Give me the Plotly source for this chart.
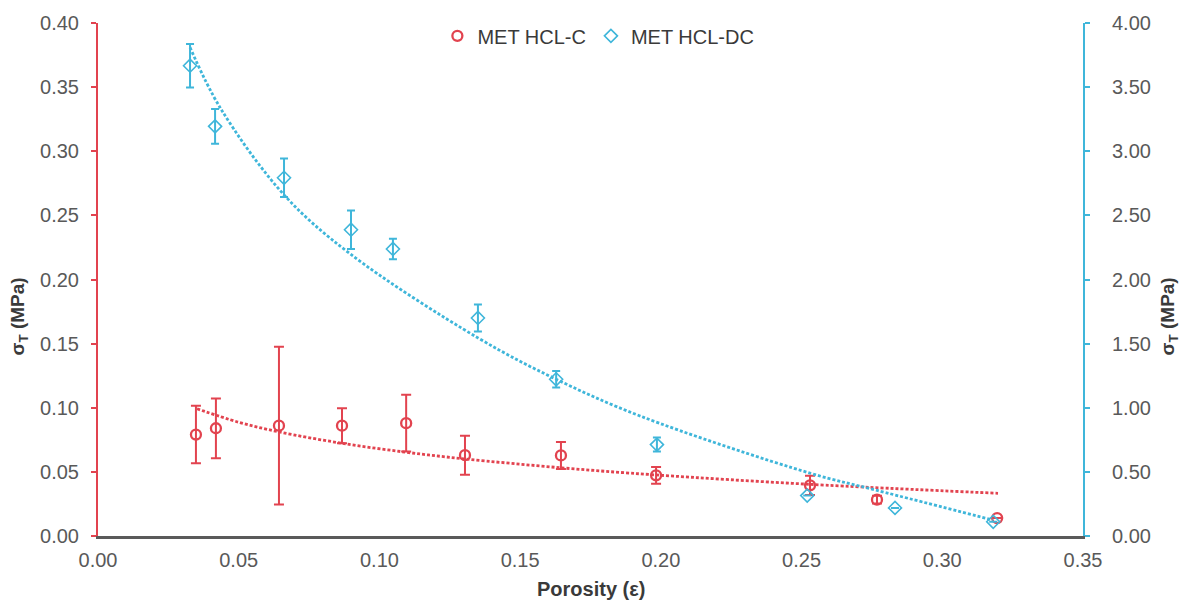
import plotly.graph_objects as go

# ---- data ----
c_x = [0.0348, 0.0419, 0.0643, 0.0867, 0.1095, 0.1304, 0.1645, 0.1983, 0.2530, 0.2768, 0.3195]
c_y = [0.0791, 0.0840, 0.0860, 0.0860, 0.0880, 0.0630, 0.0628, 0.0473, 0.0395, 0.0283, 0.0140]
c_err = [0.0224, 0.0233, 0.0615, 0.0136, 0.0222, 0.0152, 0.0105, 0.0065, 0.0075, 0.0030, 0.0]

dc_x = [0.0327, 0.0416, 0.0661, 0.0899, 0.1048, 0.1350, 0.1628, 0.1986, 0.2520, 0.2832, 0.3181]
dc_y = [3.667, 3.194, 2.793, 2.388, 2.238, 1.700, 1.222, 0.713, 0.315, 0.219, 0.111]
dc_err = [0.170, 0.135, 0.150, 0.150, 0.080, 0.105, 0.065, 0.055, 0.0, 0.0, 0.0]

# trend lines
c_trend_x = [0.0352, 0.050, 0.0643, 0.0867, 0.1095, 0.130, 0.165, 0.1983, 0.253, 0.3198]
c_trend_y = [0.0992, 0.0887, 0.0812, 0.0723, 0.0653, 0.0602, 0.0531, 0.0476, 0.0403, 0.0333]

dc_trend_x = [0.0327, 0.0434, 0.0661, 0.0896, 0.135, 0.163, 0.1926, 0.253, 0.2768, 0.318]
dc_trend_y = [3.81, 3.34, 2.66, 2.20, 1.545, 1.22, 0.936, 0.49, 0.356, 0.124]

x_ticks = [0.00, 0.05, 0.10, 0.15, 0.20, 0.25, 0.30, 0.35]

RED = "#e2434f"
CYAN = "#3fb6da"
TICK = "#595959"
TITLE = "#3a3a3a"
FONT = "Liberation Sans, Arial, sans-serif"

fig = go.Figure()

fig.add_trace(go.Scatter(
    x=c_trend_x, y=c_trend_y, mode="lines", line_shape="spline",
    line=dict(color=RED, width=2.8, dash="3px,2px"), showlegend=False, hoverinfo="skip"))
fig.add_trace(go.Scatter(
    x=dc_trend_x, y=dc_trend_y, mode="lines", line_shape="spline", yaxis="y2",
    line=dict(color=CYAN, width=2.8, dash="3px,2px"), showlegend=False, hoverinfo="skip"))

fig.add_trace(go.Scatter(
    x=c_x, y=c_y, mode="markers", name="MET HCL-C",
    marker=dict(symbol="circle-open", size=10, color=RED, line=dict(width=2.3, color=RED)),
    error_y=dict(type="data", array=c_err, visible=True, color=RED, thickness=2, width=5)))
fig.add_trace(go.Scatter(
    x=dc_x, y=dc_y, mode="markers", name="MET HCL-DC", yaxis="y2",
    marker=dict(symbol="diamond-open", size=10, color=CYAN, line=dict(width=1.6, color=CYAN)),
    error_y=dict(type="data", array=dc_err, visible=True, color=CYAN, thickness=2, width=4)))

fig.update_layout(
    width=1185, height=603,
    margin=dict(l=98, r=102, t=20, b=67),
    paper_bgcolor="white", plot_bgcolor="white",
    font=dict(family=FONT, size=20, color=TICK),
    xaxis=dict(range=[0, 0.35], tickvals=x_ticks, tickformat=".2f",
               showgrid=False, zeroline=False, showline=True, linecolor="#5a5a5a", linewidth=3,
               ticks="", ticklabelstandoff=4, tickfont=dict(size=20, color=TICK)),
    yaxis=dict(range=[0, 0.40], dtick=0.05, tickformat=".2f",
               showgrid=False, zeroline=False, showline=True, linecolor=RED, linewidth=2,
               ticks="outside", ticklen=5, tickcolor=RED, tickwidth=1.5, ticklabelstandoff=8,
               tickfont=dict(size=20, color=TICK)),
    yaxis2=dict(range=[0, 4.0], dtick=0.5, tickformat=".2f", overlaying="y", side="right",
                showgrid=False, zeroline=False, showline=True, linecolor=CYAN, linewidth=2,
                ticks="outside", ticklen=5, tickcolor=CYAN, tickwidth=1.5, ticklabelstandoff=18,
                tickfont=dict(size=20, color=TICK)),
    legend=dict(orientation="h", x=0.508, xanchor="center", y=0.975, yanchor="middle",
                font=dict(size=20, color=TITLE), bgcolor="rgba(0,0,0,0)", itemwidth=30),
    annotations=[
        dict(text="<b>σ<sub>T</sub> (MPa)</b>", xref="paper", yref="paper",
             x=-0.0802, y=0.428, xanchor="center", yanchor="middle", textangle=-90, showarrow=False,
             font=dict(size=19, color=TITLE, family=FONT)),
        dict(text="<b>σ<sub>T</sub> (MPa)</b>", xref="paper", yref="paper",
             x=1.0873, y=0.428, xanchor="center", yanchor="middle", textangle=-90, showarrow=False,
             font=dict(size=19, color=TITLE, family=FONT)),
        dict(text="<b>Porosity (ε)</b>", xref="paper", yref="paper",
             x=0.5, y=-0.1027, xanchor="center", yanchor="middle", showarrow=False,
             font=dict(size=20, color=TITLE, family=FONT)),
    ],
)

fig.write_html("out.html")
